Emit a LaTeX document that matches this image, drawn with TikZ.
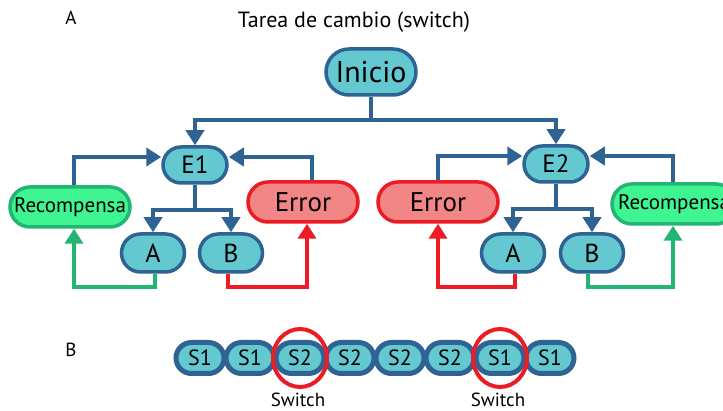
\documentclass[tikz,border=0pt]{standalone}
\usepackage{fontspec}
\setmainfont{PT Sans}
\usetikzlibrary{arrows.meta,shapes.misc,shapes.geometric}
\definecolor{dblue}{HTML}{2F6393}
\definecolor{tealfill}{HTML}{64C8D0}
\definecolor{gline}{HTML}{22B573}
\definecolor{gfill}{HTML}{3EF591}
\definecolor{rline}{HTML}{ED1C24}
\definecolor{rfill}{HTML}{F28585}
\tikzset{
  pill/.style={rounded rectangle, draw=dblue, fill=tealfill, line width=3.5pt,
    inner sep=0pt, text=black},
  rewardbox/.style={rounded rectangle, draw=gline, fill=gfill, line width=3.5pt,
    inner sep=0pt, minimum width=120pt, minimum height=40pt, font=\fontsize{21}{21}\selectfont},
  errorbox/.style={rounded rectangle, draw=rline, fill=rfill, line width=3.5pt,
    inner sep=0pt, minimum height=40pt, font=\fontsize{27}{27}\selectfont},
  statebox/.style={pill, minimum width=64pt, minimum height=36pt, font=\fontsize{25}{25}\selectfont},
  choicebox/.style={pill, minimum width=63pt, minimum height=38pt, font=\fontsize{26}{26}\selectfont},
  seqbox/.style={pill, line width=5pt, minimum width=48pt, minimum height=31pt, font=\fontsize{22}{22}\selectfont},
  conn/.style={line width=4pt, dblue, -{Triangle[width=18pt,length=15pt]}},
  gconn/.style={line width=4pt, gline, -{Triangle[width=18pt,length=15pt]}},
  rconn/.style={line width=4pt, rline, -{Triangle[width=18pt,length=15pt]}},
  ring/.style={draw=rline, line width=4pt, ellipse, minimum width=54pt, minimum height=58pt},
  lbl/.style={font=\fontsize{19}{19}\selectfont, inner sep=0pt},
}
\begin{document}
\begin{tikzpicture}[x=1pt,y=-1pt]
\useasboundingbox (0,0) rectangle (723,411);
\clip (0,0) rectangle (723,411);
\fill[white] (0,0) rectangle (723,411);

% panel letters and title
\node[lbl] (pa) at (71,18) {A};
\node[lbl] (pb) at (71,350) {B};
\node[font=\fontsize{22}{22}\selectfont, inner sep=0pt] (title) at (354,22) {Tarea de cambio (switch)};

% start and the two task states
\node[pill, minimum width=90pt, minimum height=46pt, font=\fontsize{30}{30}\selectfont] (ini) at (371,72) {Inicio};
\node[statebox] (e1) at (195,165) {E1};
\node[statebox] (e2) at (556,164) {E2};

% left branch
\node[rewardbox] (rec1) at (70,207) {Recompensa};
\node[errorbox, minimum width=110pt] (err1) at (303,202) {Error};
\node[choicebox] (a1) at (153,253) {A};
\node[choicebox] (b1) at (231,253) {B};

% right branch
\node[errorbox, minimum width=120pt] (err2) at (438,202) {Error};
\node[rewardbox, minimum width=124pt] (rec2) at (674,204) {Recompensa};
\node[choicebox] (a2) at (513,253) {A};
\node[choicebox] (b2) at (592,253) {B};

% connectors from start
\draw[conn] (ini.south) -- ++(0,23) -| (e1.north);
\draw[conn] (ini.south) -- ++(0,23) -| (e2.north);

% state to choices
\draw[conn] (e1.south) -- ++(0,25) -| (a1.north);
\draw[conn] (e1.south) -- ++(0,25) -| (b1.north);
\draw[conn] (e2.south) -- ++(0,25) -| (a2.north);
\draw[conn] (e2.south) -- ++(0,25) -| (b2.north);

% feedback back to the state
\draw[conn] ([xshift=4pt]rec1.north) |- ([yshift=8pt]e1.west);
\draw[conn] ([xshift=9pt]err1.north) |- ([yshift=8pt]e1.east);
\draw[conn] (err2.north) |- ([yshift=8pt]e2.west);
\draw[conn] ([xshift=-1pt]rec2.north) |- ([yshift=8pt]e2.east);

% outcomes
\draw[gconn] ([xshift=2pt]a1.south) -- ++(0,13) -| ([xshift=4pt]rec1.south);
\draw[rconn] ([xshift=-3pt]b1.south) -- ++(0,13) -| ([xshift=4pt]err1.south);
\draw[rconn] ([xshift=2pt]a2.south) -- ++(0,13) -| (err2.south);
\draw[gconn] ([xshift=-4pt]b2.south) -- ++(0,13) -| ([xshift=-1pt]rec2.south);

% sequence of trials
\foreach \lab [count=\i] in {S1,S1,S2,S2,S2,S2,S1,S1}{
  \node[seqbox] (s\i) at (150+50*\i,358) {\lab};
}
\node[ring] (r1) at (s3) {};
\node[ring] (r2) at (s7) {};
\node[lbl] (sw1) at (298,400) {Switch};
\node[lbl] (sw2) at (498,400) {Switch};
\end{tikzpicture}
\end{document}
